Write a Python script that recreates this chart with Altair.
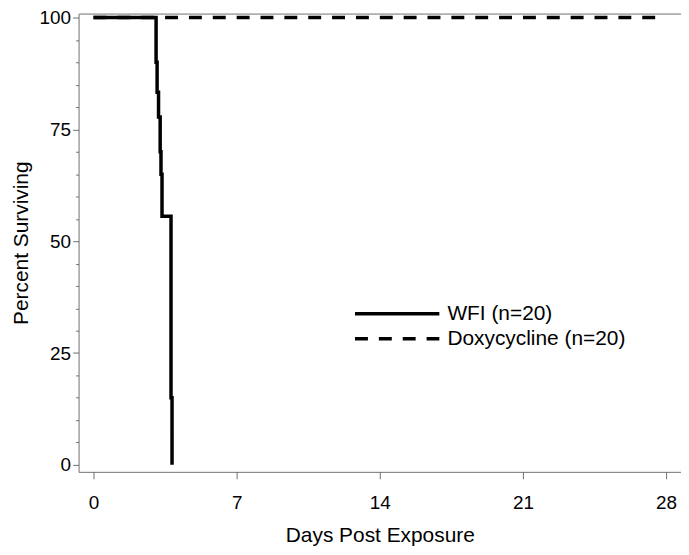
import altair as alt
import pandas as pd

# WFI Kaplan-Meier steps (day, percent surviving)
wfi_days = [0, 3.06, 3.11, 3.18, 3.26, 3.30, 3.35, 3.79, 3.84]
wfi_surv = [100, 90, 83.3, 77.8, 70, 65, 55.6, 15, 0]
doxy_days = [0, 28]
doxy_surv = [100, 100]

series = ["WFI (n=20)", "Doxycycline (n=20)"]

rows = []
for d, s in zip(wfi_days, wfi_surv):
    rows.append({"day": d, "surv": s, "group": series[0]})
for d, s in zip(doxy_days, doxy_surv):
    rows.append({"day": d, "surv": s, "group": series[1]})
df = pd.DataFrame(rows)

FONT = "Liberation Sans"

chart = alt.Chart(df).mark_line(interpolate="step-after", strokeWidth=3.5, color="black").encode(
    x=alt.X("day:Q", scale=alt.Scale(domain=[-0.73, 28.73], nice=False, zero=False),
            axis=alt.Axis(values=[0, 7, 14, 21, 28], title="Days Post Exposure", grid=False,
                          tickSize=7, labelPadding=15, titlePadding=12, domain=False,
                          labelFontSize=19)),
    y=alt.Y("surv:Q", scale=alt.Scale(domain=[-1.56, 100.9], nice=False, zero=False),
            axis=alt.Axis(values=list(range(0, 101, 5)), title="Percent Surviving", grid=False,
                          labelExpr="datum.value % 25 === 0 ? datum.label : ''",
                          tickSize={"condition": {"test": "datum.value % 25 === 0", "value": 6}, "value": 3},
                          labelPadding=2, titlePadding=8, domain=False,
                          labelFontSize=19)),
    strokeDash=alt.StrokeDash("group:N", sort=series,
                              scale=alt.Scale(domain=series, range=[[1, 0], [13, 11]]),
                              legend=alt.Legend(title=None, orient="none", legendX=276, legendY=292,
                                                symbolType="stroke", symbolSize=7200,
                                                symbolStrokeWidth=3.5, symbolStrokeColor="black",
                                                labelFontSize=21, labelFont=FONT, labelColor="black",
                                                labelLimit=400, clipHeight=20,
                                                rowPadding=4, labelOffset=6)),
    detail="group:N",
).properties(
    width=606, height=461,
    autosize=alt.AutoSizeParams(type="none"),
    padding={"left": 71, "top": 4, "right": 0, "bottom": 74},
).configure_view(
    stroke="#707070", strokeWidth=1
).configure_axis(
    labelFont=FONT, titleFont=FONT, titleFontSize=21,
    labelColor="black", titleColor="black", titleFontWeight="normal",
    tickColor="#707070", tickWidth=1
)

chart.save("out.html", embed_options={"renderer": "svg", "actions": False})
